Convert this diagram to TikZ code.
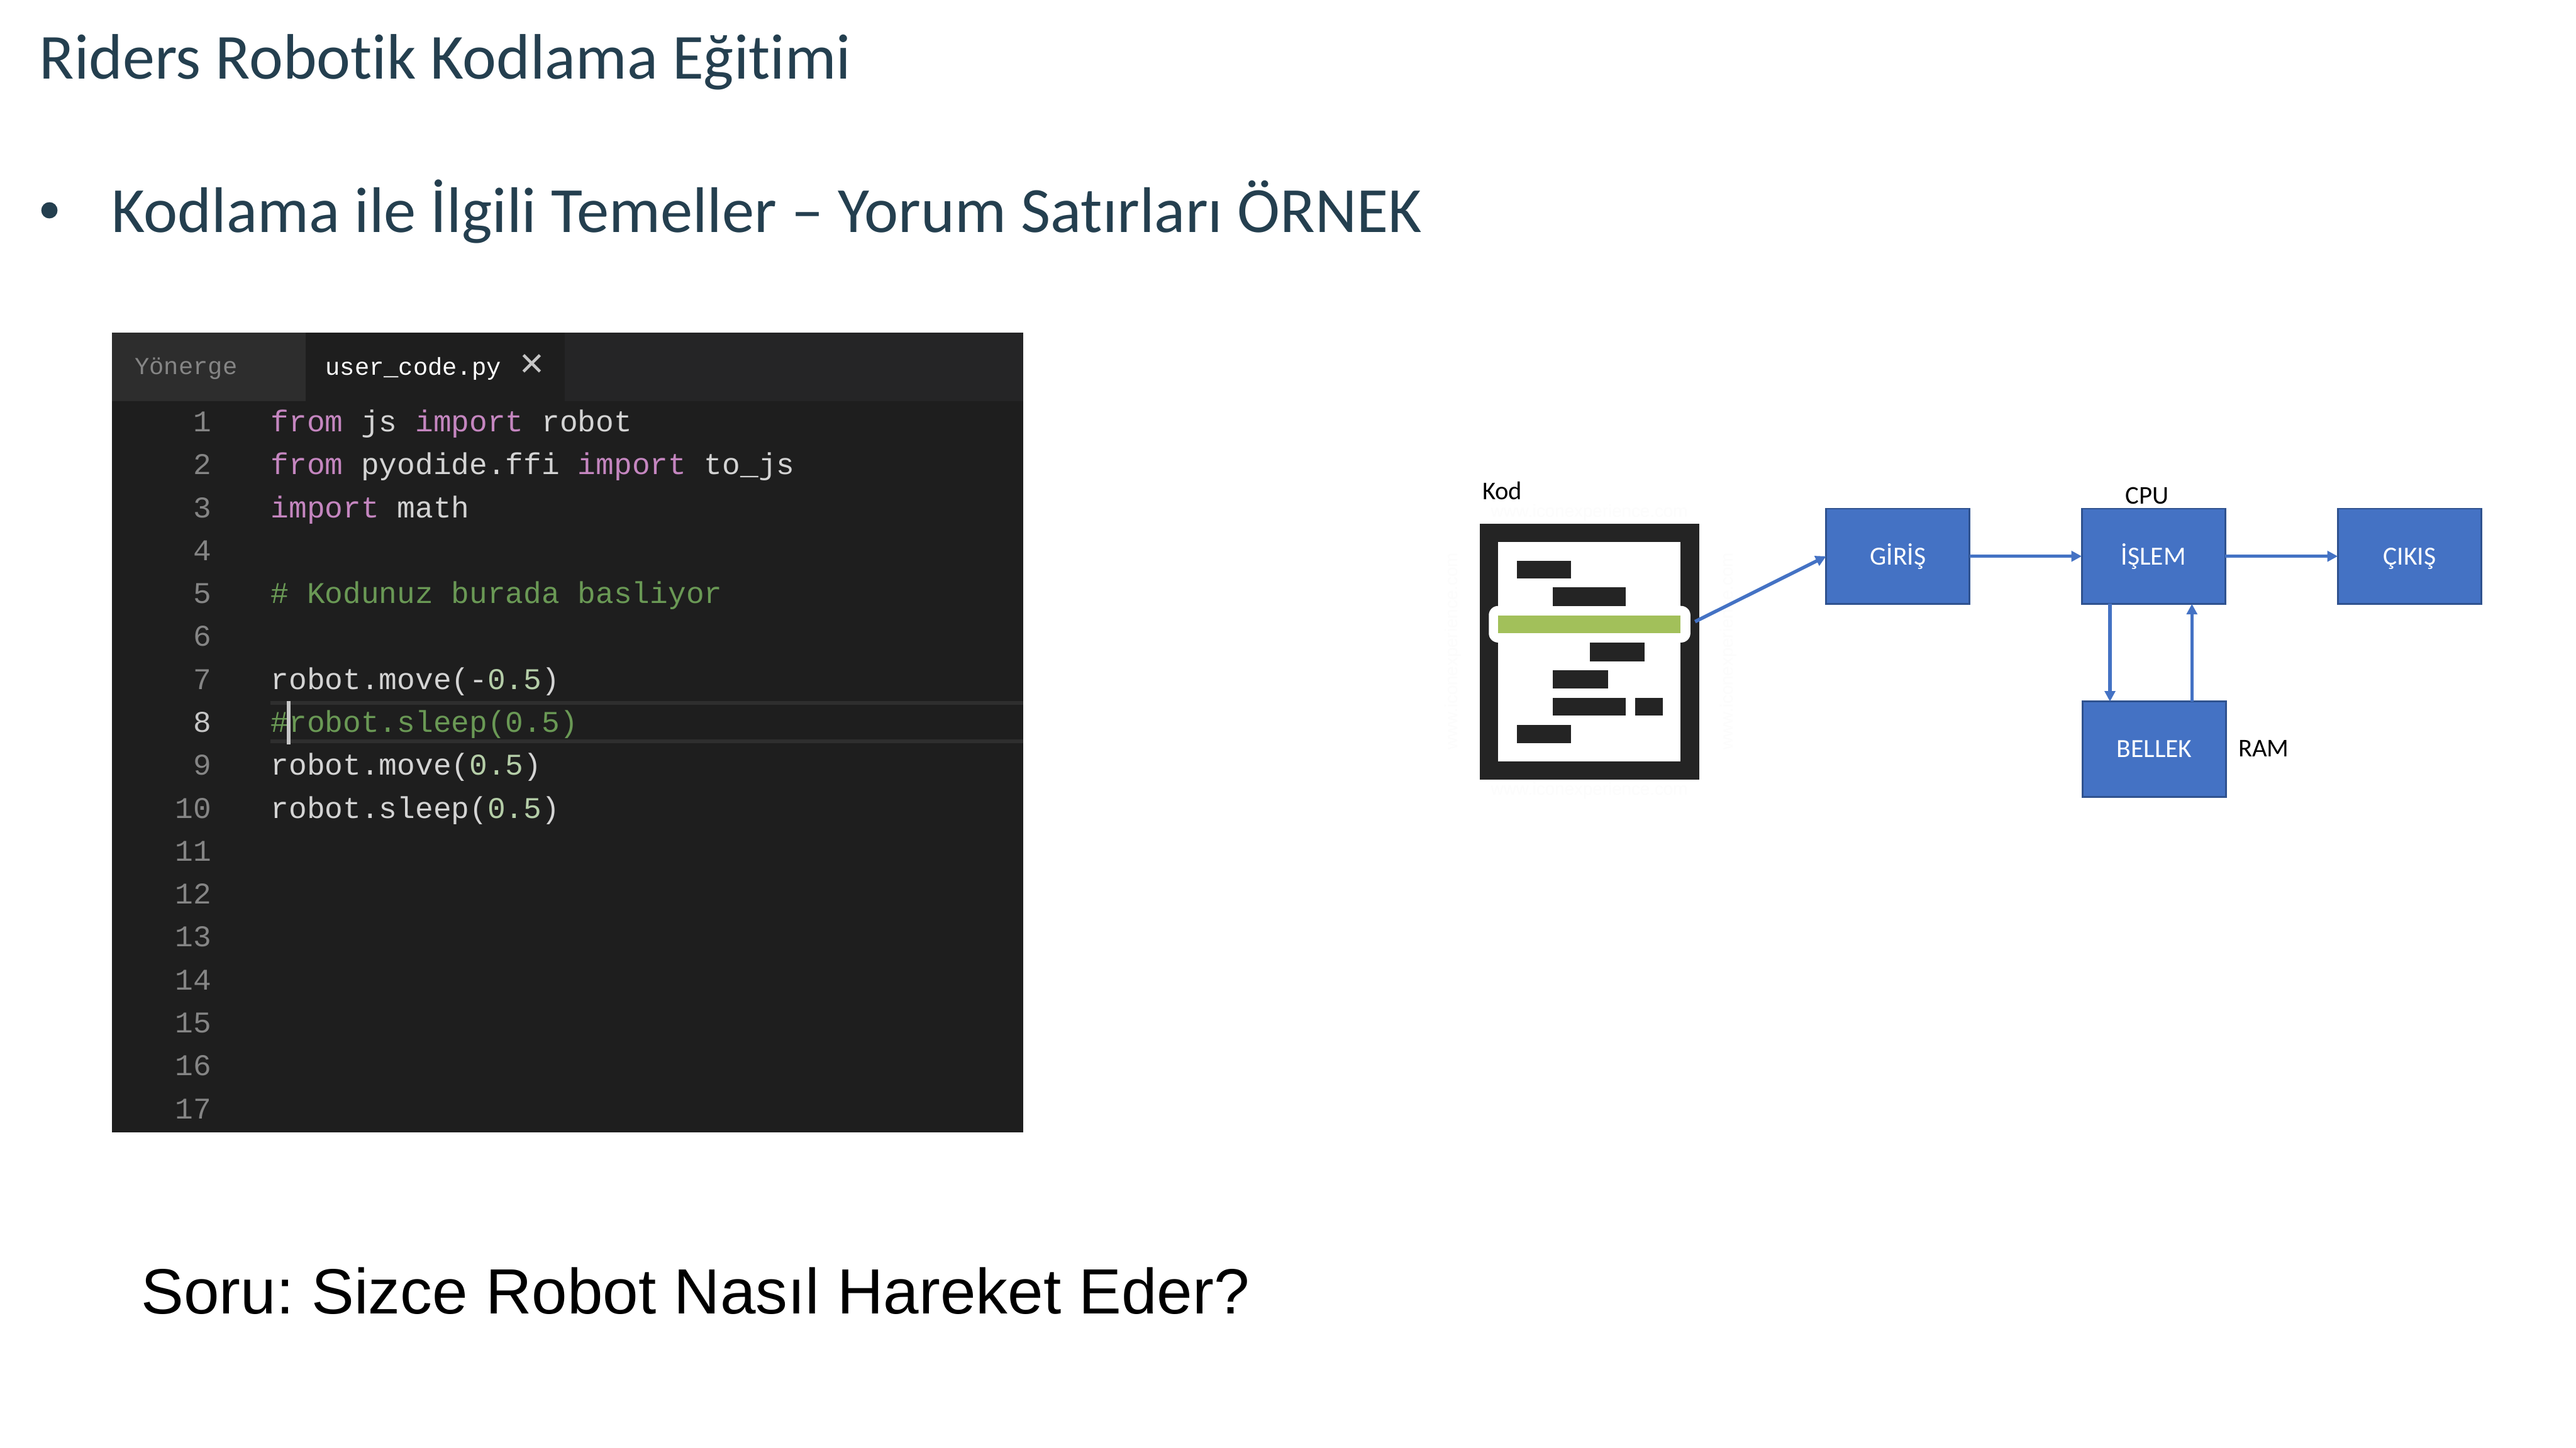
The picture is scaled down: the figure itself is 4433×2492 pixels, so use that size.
\documentclass[tikz,border=0pt]{standalone}
\usepackage{fontspec}
\usetikzlibrary{arrows.meta,calc}
\setmainfont{Carlito}[Ligatures=NoCommon]
\newfontfamily\codefont{Liberation Mono}
\newfontfamily\arialfont{Liberation Sans}
\definecolor{slate}{HTML}{243F4F}
\definecolor{boxfill}{HTML}{4472C4}
\definecolor{boxline}{HTML}{2F528F}
\definecolor{iconbk}{HTML}{242424}
\definecolor{icongr}{HTML}{A2C05A}
\definecolor{edbg}{HTML}{1E1E1E}
\definecolor{tabbg}{HTML}{2D2D2D}
\definecolor{barbg}{HTML}{252526}
\definecolor{hl}{HTML}{2E2E2E}
\definecolor{kw}{HTML}{C586C0}
\definecolor{cm}{HTML}{6A9955}
\definecolor{nu}{HTML}{B5CEA8}
\definecolor{tx}{HTML}{D4D4D4}
\definecolor{ln}{HTML}{858585}
\definecolor{lna}{HTML}{C6C6C6}
\definecolor{wm}{HTML}{FCFCFC}
\newcommand{\kwd}[1]{\textcolor{kw}{#1}}
\newcommand{\cmt}[1]{\textcolor{cm}{#1}}
\newcommand{\num}[1]{\textcolor{nu}{#1}}
\tikzset{
  x=1pt,y=-1pt,
  txt/.style={inner sep=0pt,outer sep=0pt,anchor=base west},
  title/.style={txt,text=slate,font=\fontsize{110.5}{110.5}\selectfont\frenchspacing},
  question/.style={txt,text=black,font=\arialfont\fontsize{110}{110}\selectfont\frenchspacing},
  code/.style={txt,text=tx,font=\codefont\fontsize{51.8}{52}\selectfont\frenchspacing},
  lineno/.style={inner sep=0pt,outer sep=0pt,anchor=base east,text=ln,font=\codefont\fontsize{51.8}{52}\selectfont},
  tabtxt/.style={txt,font=\codefont\fontsize{42}{42}\selectfont},
  flowbox/.style={draw=boxline,fill=boxfill,line width=3pt,text=white,inner sep=0pt,outer sep=0pt,
    minimum width=247pt,minimum height=164pt,text height=29pt,text depth=0pt,font=\fontsize{45}{45}\selectfont},
  lbl/.style={inner sep=0pt,outer sep=0pt,text=black,font=\fontsize{44}{44}\selectfont},
  flow/.style={draw=boxfill,line width=6pt,-{Triangle[length=18pt,width=18pt]}},
  iconbar/.style={fill=iconbk},
  wmark/.style={inner sep=0pt,text=wm,font=\arialfont\fontsize{30}{30}\selectfont},
}
\begin{document}
\begin{tikzpicture}
\useasboundingbox (0,0) rectangle (4433,2492);
\fill[white] (0,0) rectangle (4433,2492);
% titles
\node[title] (t1) at (68,136) {Riders Robotik Kodlama Eğitimi};
\node[inner sep=0pt,circle,fill=slate,minimum size=28pt] (bul) at (85,362) {};
\node[title,font=\fontsize{111}{111}\selectfont\frenchspacing] (t2) at (192,400) {Kodlama ile İlgili Temeller – Yorum Satırları ÖRNEK};
\node[question] (q) at (243,2261) {Soru: Sizce Robot Nasıl Hareket Eder?};
% editor
\fill[edbg] (193,573) rectangle (1761,1949);
\fill[barbg] (193,573) rectangle (1761,690);
\fill[tabbg] (193,573) rectangle (526,690);
\fill[edbg] (526,573) rectangle (972,690);
\node[tabtxt,text=ln] (tab1) at (232,644) {Yönerge};
\node[tabtxt,text=white] (tab2) at (560,646) {user\_code.py};
\node[inner sep=0pt,text=lna,font=\arialfont\fontsize{72}{72}\selectfont] (tabx) at (915,630) {×};
\fill[hl] (465,1207) rectangle (1761,1213);
\fill[hl] (465,1273) rectangle (1761,1279);
\foreach \i in {1,...,7,9,10,11,12,13,14,15,16,17}{
  \pgfmathsetmacro{\yy}{743+73.9*(\i-1)}
  \node[lineno] (n\i) at (364,\yy) {\i};
}
\node[lineno,text=lna] (n8) at (364,{743+73.9*7}) {8};
\newcommand{\cl}[2]{\node[code] (c#1) at (466,{743+73.9*(#1-1)}) {#2};}
\cl{1}{\kwd{from} js \kwd{import} robot}
\cl{2}{\kwd{from} pyodide.ffi \kwd{import} to\_js}
\cl{3}{\kwd{import} math}
\cl{5}{\cmt{\# Kodunuz burada basliyor}}
\cl{7}{robot.move(-\num{0.5})}
\cl{8}{\cmt{\#robot.sleep(0.5)}}
\cl{9}{robot.move(\num{0.5})}
\cl{10}{robot.sleep(\num{0.5})}
\fill[lna] (493,1207) rectangle (500,1281);
% code icon
\node[wmark] (w1) at (2735,882) {www.iconexperience.com};
\node[wmark] (w2) at (2735,1361) {www.iconexperience.com};
\node[wmark,rotate=90] (w3) at (2974,1121) {www.iconexperience.com};
\node[wmark,rotate=90] (w4) at (2500,1121) {www.iconexperience.com};
\node[fill=iconbk,inner sep=0pt,outer sep=0pt,minimum width=377pt,minimum height=441pt] (icon) at (2735.5,1121.5) {};
\fill[white] (2578,933) rectangle (2892,1311);
\fill[white,rounded corners=16pt] (2562,1043) rectangle (2909,1106);
\fill[iconbar] (2610,965) rectangle (2704,996);
\fill[iconbar] (2672,1011) rectangle (2798,1043);
\fill[icongr] (2578,1059) rectangle (2892,1090);
\fill[iconbar] (2736,1106) rectangle (2830,1138);
\fill[iconbar] (2672,1154) rectangle (2767,1185);
\fill[iconbar] (2672,1201) rectangle (2798,1232);
\fill[iconbar] (2814,1201) rectangle (2862,1232);
\fill[iconbar] (2610,1248) rectangle (2704,1279);
\node[lbl,anchor=base west] (kod) at (2551,860) {Kod};
% flow
\node[flowbox] (giris) at (3266,957.5) {GİRİŞ};
\node[flowbox] (islem) at (3706,957.5) {İŞLEM};
\node[flowbox] (cikis) at (4146.5,957.5) {ÇIKIŞ};
\node[flowbox] (bellek) at (3707.5,1289.5) {BELLEK};
\node[lbl] (cpu) at (3695,853) {CPU};
\node[lbl,anchor=base west] (ram) at (3852,1303) {RAM};
\coordinate (kodout) at (2917,1070);
\coordinate (dn) at (3631,1120);
\coordinate (up) at (3772,1120);
\draw[flow] (kodout) -- (giris.west);
\draw[flow] (giris.east) -- (islem.west);
\draw[flow] (islem.east) -- (cikis.west);
\draw[flow] (islem.south -| dn) -- (bellek.north -| dn);
\draw[flow] (bellek.north -| up) -- (islem.south -| up);
\end{tikzpicture}
\end{document}
